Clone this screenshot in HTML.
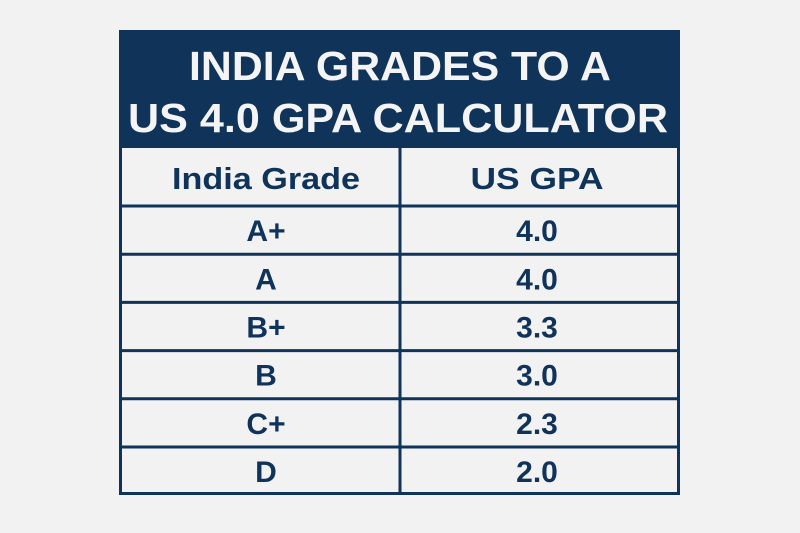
<!DOCTYPE html>
<html><head><meta charset="utf-8"><style>
html,body{margin:0;padding:0;background:#f2f2f2;}
svg{display:block;}
text{font-family:"Liberation Sans",sans-serif;font-weight:bold;fill:#10335a;text-anchor:middle;}
</style></head><body>
<svg id="s" width="800" height="533" viewBox="0 0 800 533">
<rect x="0" y="0" width="800" height="533" fill="#f2f2f2"/>
<rect x="119" y="30" width="561" height="118" fill="#10335a"/>
<text x="400" y="80" font-size="41" style="fill:#f4f4f4" textLength="422" lengthAdjust="spacingAndGlyphs">INDIA GRADES TO A</text>
<text x="398" y="132" font-size="41" style="fill:#f4f4f4" textLength="540" lengthAdjust="spacingAndGlyphs">US 4.0 GPA CALCULATOR</text>
<rect x="120.5" y="31.5" width="558" height="462" fill="none" stroke="#10335a" stroke-width="3"/>
<line x1="400" y1="148" x2="400" y2="494" stroke="#10335a" stroke-width="3"/>
<line x1="119" y1="206" x2="680" y2="206" stroke="#10335a" stroke-width="3"/>
<text x="266" y="189" font-size="31" textLength="188" lengthAdjust="spacingAndGlyphs" style="font-weight:600">India Grade</text>
<text x="537" y="189" font-size="31" textLength="133" lengthAdjust="spacingAndGlyphs" style="font-weight:600">US GPA</text>
</svg>
<script>
const grades = ["A+","A","B+","B","C+","D"];
const gpas = ["4.0","4.0","3.3","3.0","2.3","2.0"];
const s = document.getElementById('s');
const ns = 'http://www.w3.org/2000/svg';
const top0 = 206, rowH = 48.2;
for (let i = 0; i < grades.length; i++) {
  const y0 = top0 + i * rowH;
  if (i > 0) {
    const l = document.createElementNS(ns, 'line');
    l.setAttribute('x1', 119); l.setAttribute('x2', 680);
    l.setAttribute('y1', y0); l.setAttribute('y2', y0);
    l.setAttribute('stroke', '#10335a'); l.setAttribute('stroke-width', 3);
    
    
    s.appendChild(l);
  }
  const a = document.createElementNS(ns, 'text');
  a.setAttribute('x', 266); a.setAttribute('y', y0 + rowH / 2 + 11);
  a.setAttribute('font-size', 30);
  a.textContent = grades[i];
  
  
  s.appendChild(a);
  const b = document.createElementNS(ns, 'text');
  b.setAttribute('x', 537); b.setAttribute('y', y0 + rowH / 2 + 11);
  b.setAttribute('font-size', 30);
  b.textContent = gpas[i];
  
  
  s.appendChild(b);
}
</script>
</body></html>
